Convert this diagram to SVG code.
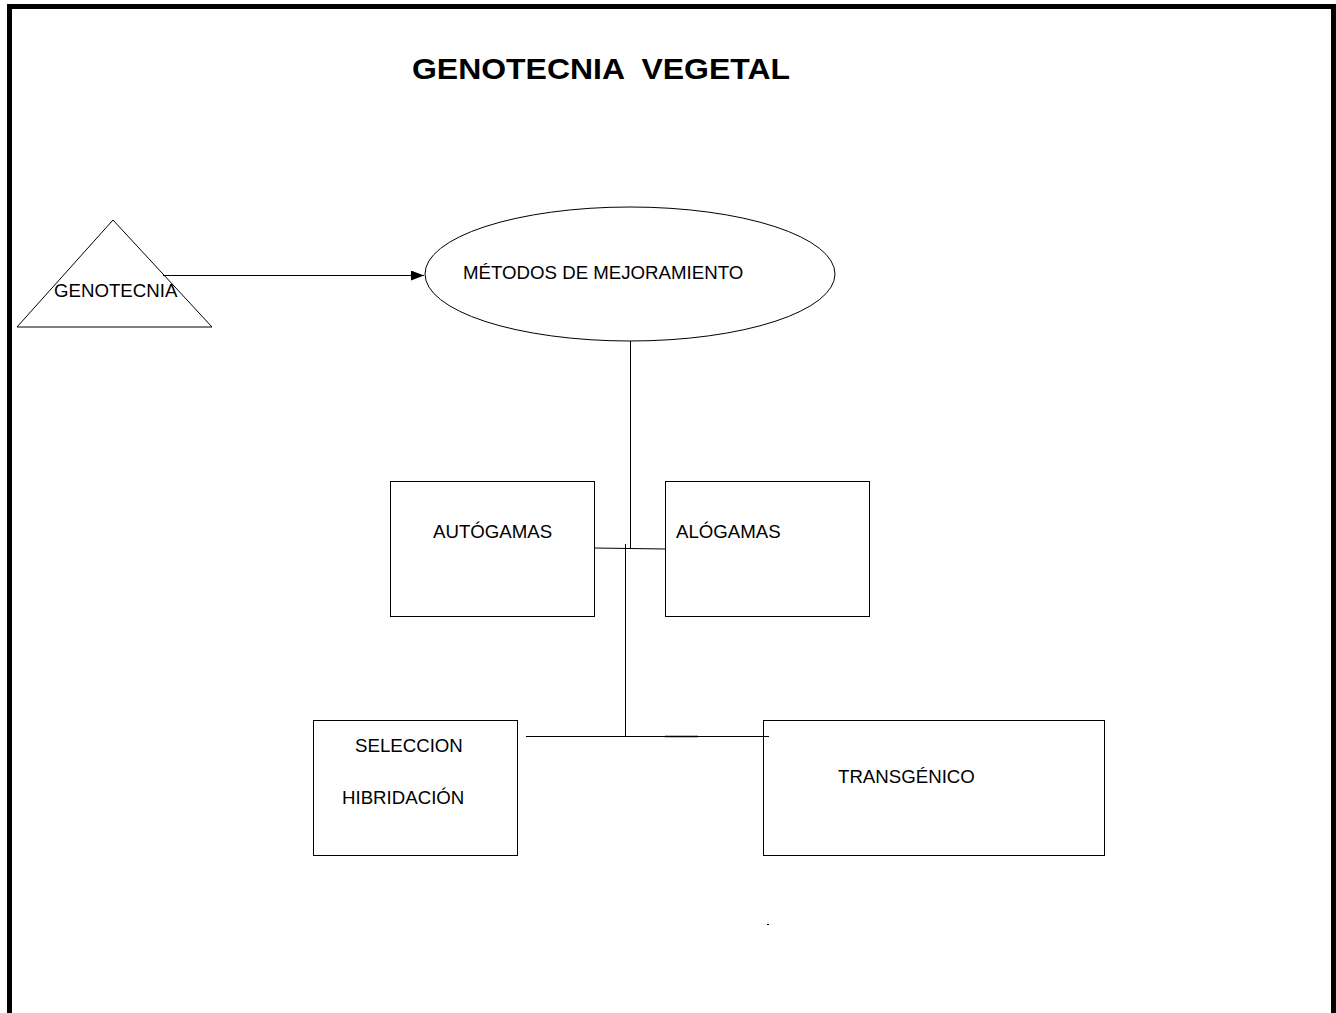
<svg xmlns="http://www.w3.org/2000/svg" width="1336" height="1013" viewBox="0 0 1336 1013">
<style>
text{font-family:"Liberation Sans",Arial,sans-serif;font-size:18.67px;fill:#000}
.shape{fill:#fff;stroke:#000;stroke-width:1}
.conn line{stroke:#000;stroke-width:1}
</style>
<defs>
<marker id="arr" markerWidth="13" markerHeight="10" refX="13" refY="5" orient="auto" markerUnits="userSpaceOnUse">
<path d="M0,0 L13,5 L0,10 Z" fill="#000"/>
</marker>
</defs>
<rect x="0" y="0" width="1336" height="1013" fill="#fff"/>
<rect x="9.5" y="6.5" width="1324" height="1100" fill="none" stroke="#000" stroke-width="5"/>
<text x="412" y="79" style="font-size:29.5px;font-weight:bold" textLength="378" lengthAdjust="spacingAndGlyphs" xml:space="preserve">GENOTECNIA  VEGETAL</text>
<g id="genotecnia">
<polygon class="shape" points="113,220 212,327 17,327"/>
<text x="54" y="297">GENOTECNIA</text>
</g>
<g id="metodos">
<ellipse class="shape" cx="630" cy="274" rx="205" ry="67"/>
<text x="463" y="279">MÉTODOS DE MEJORAMIENTO</text>
</g>
<g id="autogamas">
<rect class="shape" x="390.5" y="481.5" width="204" height="135"/>
<text x="433" y="538">AUTÓGAMAS</text>
</g>
<g id="alogamas">
<rect class="shape" x="665.5" y="481.5" width="204" height="135"/>
<text x="676" y="538">ALÓGAMAS</text>
</g>
<g id="seleccion">
<rect class="shape" x="313.5" y="720.5" width="204" height="135"/>
<text x="355" y="752">SELECCION</text>
<text x="342" y="804">HIBRIDACIÓN</text>
</g>
<g id="transgenico">
<rect class="shape" x="763.5" y="720.5" width="341" height="135"/>
<text x="838" y="783">TRANSGÉNICO</text>
</g>
<g id="connectors" class="conn">
<line x1="163" y1="275.5" x2="424" y2="275.5" marker-end="url(#arr)"/>
<line x1="630.5" y1="341" x2="630.5" y2="549"/>
<line x1="594" y1="548" x2="665" y2="549"/>
<line x1="625.5" y1="544" x2="625.5" y2="736"/>
<line x1="526" y1="736.5" x2="769" y2="736.5"/>
<line x1="665" y1="736.5" x2="698" y2="736.5" style="stroke-width:1.5"/>
</g>
<rect x="767" y="924" width="2" height="1" fill="#000"/>
</svg>
